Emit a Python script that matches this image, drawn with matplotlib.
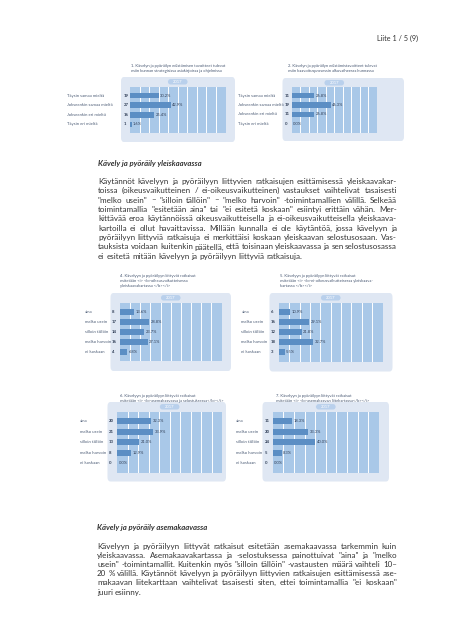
import matplotlib
matplotlib.use("Agg")
import matplotlib.pyplot as plt
from matplotlib.patches import FancyBboxPatch
import matplotlib.transforms as mtrans

plt.rcParams['font.family'] = ['Lato', 'DejaVu Sans']

W, H = 453, 640
fig = plt.figure(figsize=(W / 100, H / 100), dpi=100)
fig.patch.set_facecolor('white')

# ---------------- data ----------------
agree_labels = ["Täysin samaa mieltä", "Jokseenkin samaa mieltä",
                "Jokseenkin eri mieltä", "Täysin eri mieltä"]
freq_labels = ["aina", "melko usein", "silloin tällöin", "melko harvoin", "ei koskaan"]

c1_counts = [19, 27, 16, 1]
c1_pct = [30.2, 42.9, 25.4, 1.6]
c2_counts = [11, 19, 11, 0]
c2_pct = [26.8, 46.3, 26.8, 0.0]
c4_counts = [8, 17, 14, 16, 4]
c4_pct = [13.6, 28.8, 23.7, 27.1, 6.8]
c5_counts = [6, 16, 12, 18, 3]
c5_pct = [10.9, 29.1, 21.8, 32.7, 5.5]
c6_counts = [20, 21, 13, 8, 0]
c6_pct = [32.3, 33.9, 21.0, 12.9, 0.0]
c7_counts = [11, 20, 24, 5, 0]
c7_pct = [18.3, 33.3, 40.0, 8.3, 0.0]

pill_text = "2017"

titles = [
    ["1. Kävelyn ja pyöräilyn edistämisen tavoitteet tulevat",
     "esiin kunnan strategisissa asiakirjoissa ja ohjelmissa"],
    ["2. Kävelyn ja pyöräilyn edistämistavoitteet tulevat",
     "esiin kaavoitusprosessin alkuvaiheessa kunnassa"],
    ["4. Kävelyyn ja pyöräilyyn liittyvät ratkaisut",
     "esitetään <i> <b>oikeusvaikutteisessa",
     "yleiskaavakartassa </b></i>"],
    ["5. Kävelyyn ja pyöräilyyn liittyvät ratkaisut",
     "esitetään <i> <b>ei-oikeusvaikutteisessa yleiskaava-",
     "kartassa </b></i>"],
    ["6. Kävelyyn ja pyöräilyyn liittyvät ratkaisut",
     "esitetään <i> <b>asemakaavassa ja selostuksessa</b></i>"],
    ["7. Kävelyyn ja pyöräilyyn liittyvät ratkaisut",
     "esitetään <i> <b>asemakaavan liitekartassa</b></i>"],
]

para1 = [
    "Käytännöt kävelyyn ja pyöräilyyn liittyvien ratkaisujen esittämisessä yleiskaavakar-",
    "toissa (oikeusvaikutteinen / ei-oikeusvaikutteinen) vastaukset vaihtelivat tasaisesti",
    "\"melko usein\" – \"silloin tällöin\" – \"melko harvoin\" -toimintamallien välillä. Selkeää",
    "toimintamallia \"esitetään aina\" tai \"ei esitetä koskaan\" esiintyi erittäin vähän. Mer-",
    "kittävää eroa käytännöissä oikeusvaikutteisella ja ei-oikeusvaikutteisella yleiskaava-",
    "kartoilla ei ollut havaittavissa. Millään kunnalla ei ole käytäntöä, jossa kävelyyn ja",
    "pyöräilyyn liittyviä ratkaisuja ei merkittäisi koskaan yleiskaavan selostusosaan. Vas-",
    "tauksista voidaan kuitenkin päätellä, että toisinaan yleiskaavassa ja sen selostusosassa",
    "ei esitetä mitään kävelyyn ja pyöräilyyn liittyviä ratkaisuja.",
]
para2 = [
    "Kävelyyn ja pyöräilyyn liittyvät ratkaisut esitetään asemakaavassa tarkemmin kuin",
    "yleiskaavassa. Asemakaavakartassa ja -selostuksessa painottuivat \"aina\" ja \"melko",
    "usein\" -toimintamallit. Kuitenkin myös \"silloin tällöin\" -vastausten määrä vaihteli 10–",
    "20 % välillä. Käytännöt kävelyyn ja pyöräilyyn liittyvien ratkaisujen esittämisessä ase-",
    "makaavan liitekarttaan vaihtelivat tasaisesti siten, ettei toimintamallia \"ei koskaan\"",
    "juuri esiinny.",
]

# ---------------- styles ----------------
PANEL = '#dfe7f3'
INNER = '#a9c8e8'
BAR = '#5b8ec4'
PILL = '#b9d0ec'
LABEL = '#4f5f78'
TEXT = '#333333'


def fx(x):
    return x / W


def fy(y):
    return 1 - y / H


def rounded(x0, y0, x1, y1, color, r=3, z=-5):
    p = FancyBboxPatch((fx(x0), fy(y1)), fx(x1) - fx(x0), fy(y0) - fy(y1),
                       boxstyle=f"round,pad=0,rounding_size={r / W}",
                       transform=fig.transFigure, facecolor=color,
                       edgecolor='none', zorder=z)
    fig.patches.append(p)


def chart(panel, inner, labels, counts, pct, lab_x, cnt_x, title, title_xy):
    px0, py0, px1, py1 = panel
    ix0, iy0, ix1, iy1 = inner
    rounded(px0, py0, px1, py1, PANEL, r=3, z=-5)
    # pill
    cx = (ix0 + ix1) / 2
    pyc = py0 + 4.8
    rounded(cx - 10, pyc - 2.7, cx + 10, pyc + 2.7, PILL, r=2.7, z=-4)
    fig.text(fx(cx), fy(pyc), pill_text, ha='center', va='center',
             fontsize=3.0, color='white', zorder=3)
    ax = fig.add_axes([fx(ix0), fy(iy1), fx(ix1) - fx(ix0), fy(iy0) - fy(iy1)])
    ax.set_zorder(2)
    ax.set_facecolor(INNER)
    for s in ax.spines.values():
        s.set_visible(False)
    n = len(labels)
    ypos = list(range(n))
    ax.set_xlim(0, 100)
    ax.set_ylim(n - 1 + 0.9, -0.9)
    for g in range(10, 100, 10):
        ax.axvline(g, color='white', lw=0.7, zorder=1)
    ax.barh(ypos, pct, height=0.58, color=BAR, zorder=2)
    ax.set_xticks([])
    ax.set_yticks([])
    trans = mtrans.blended_transform_factory(fig.transFigure, ax.transData)
    for i in range(n):
        ax.text(fx(lab_x), i, labels[i], transform=trans, ha='left', va='center',
                fontsize=3.1, color=LABEL, clip_on=False)
        ax.text(fx(cnt_x), i, str(counts[i]), transform=trans, ha='left',
                va='center', fontsize=3.1, color='#2f3d55', clip_on=False,
                fontweight='bold')
        ax.text(pct[i] + 1.5, i, f"{pct[i]:.1f}%", ha='left', va='center',
                fontsize=2.9, color='#2f3d55', zorder=3)
    tx, ty = title_xy
    for k, line in enumerate(title):
        fig.text(fx(tx), fy(ty + k * 4.6), line, ha='left', va='center',
                 fontsize=3.0, color='#4a5a74')


chart((121, 77, 235, 142), (130, 87, 225.5, 133), agree_labels, c1_counts, c1_pct,
      67, 123.5, titles[0], (131, 66))
chart((282.5, 78, 404, 141), (291.5, 87, 377, 132.5), agree_labels, c2_counts, c2_pct,
      238, 284.5, titles[1], (288, 66))
chart((110.5, 293, 231, 371), (120, 303, 221.5, 361), freq_labels, c4_counts, c4_pct,
      85, 112, titles[2], (120, 276.5))
chart((269.5, 293, 392.5, 371.5), (279, 303, 382.5, 361.5), freq_labels, c5_counts, c5_pct,
      241.5, 271, titles[3], (280, 276.5))
chart((107.5, 402, 226, 481.5), (117.3, 412, 222, 472.5), freq_labels, c6_counts, c6_pct,
      80, 108.5, titles[4], (120, 396.5))
chart((262.5, 402, 389, 481.5), (272.7, 412, 379, 472.5), freq_labels, c7_counts, c7_pct,
      236, 264.5, titles[5], (276, 396.5))

# ---------------- text ----------------
fig.canvas.draw()
renderer = fig.canvas.get_renderer()


def justify(lines, x0, x1, y0, dy, fs):
    sp = fig.text(0, 0, "a a", fontsize=fs)
    nsp = fig.text(0, 0, "aa", fontsize=fs)
    space = sp.get_window_extent(renderer).width - nsp.get_window_extent(renderer).width
    sp.remove()
    nsp.remove()
    for i, line in enumerate(lines):
        y = y0 + i * dy
        words = line.split(' ')
        ts = [fig.text(0, fy(y), w, fontsize=fs, color=TEXT, va='baseline')
              for w in words]
        ws = [t.get_window_extent(renderer).width for t in ts]
        if i == len(lines) - 1 or len(words) == 1:
            gap = space
        else:
            gap = (x1 - x0 - sum(ws)) / (len(words) - 1)
        x = x0
        for t, w in zip(ts, ws):
            t.set_x(fx(x))
            x += w + gap


fig.text(fx(418), fy(38), "Liite 1 / 5 (9)", ha='right', va='center',
         fontsize=5.2, color=TEXT)

fig.text(fx(98), fy(163.5), "Kävely ja pyöräily yleiskaavassa", ha='left',
         va='center', fontsize=5.6, color=TEXT, fontweight='bold', fontstyle='italic')
justify(para1, 98, 397, 184, 9.35, 5.75)

fig.text(fx(97), fy(527.5), "Kävely ja pyöräily asemakaavassa", ha='left',
         va='center', fontsize=5.6, color=TEXT, fontweight='bold', fontstyle='italic')
justify(para2, 97, 397, 549, 9.1, 5.75)

fig.savefig("out.png", dpi=100, facecolor='white')
